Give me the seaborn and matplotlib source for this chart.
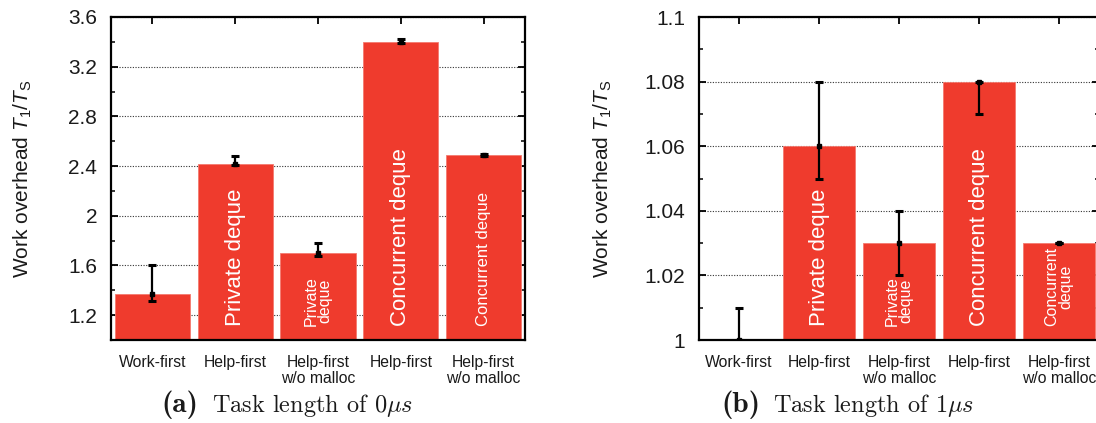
import matplotlib
matplotlib.use("Agg")
import matplotlib.pyplot as plt
import matplotlib.transforms as mtransforms
from matplotlib.ticker import FixedLocator, MultipleLocator, FuncFormatter
import numpy as np
import pandas as pd
import seaborn as sns

# Scheduler variants along the x axis
categories = ["Work-first", "Help-first", "Help-first\nw/o malloc",
              "Help-first", "Help-first\nw/o malloc"]

# Deque kind written inside each bar
deque_0us = ["", "Private deque", "Private\ndeque", "Concurrent deque", "Concurrent deque"]
deque_1us = ["", "Private deque", "Private\ndeque", "Concurrent deque", "Concurrent\ndeque"]

# Work overhead T1/TS with min/max range, task length 0 us
overhead_0us = [1.37, 2.42, 1.70, 3.40, 2.49]
low_0us = [1.31, 2.41, 1.68, 3.39, 2.48]
high_0us = [1.60, 2.48, 1.78, 3.42, 2.50]

# Work overhead T1/TS with min/max range, task length 1 us
overhead_1us = [1.00, 1.06, 1.03, 1.08, 1.03]
low_1us = [1.00, 1.05, 1.02, 1.07, 1.03]
high_1us = [1.01, 1.08, 1.04, 1.08, 1.03]

# Axis ticks
yticks_0us = [1.2, 1.6, 2.0, 2.4, 2.8, 3.2, 3.6]
yticks_1us = [1.0, 1.02, 1.04, 1.06, 1.08, 1.1]

# Sub-figure captions: bold tag + description
caption_tags = ["(a)", "(b)"]
caption_texts = [r"Task length of $0\mu s$", r"Task length of $1\mu s$"]

sns.set_theme(style="ticks")
plt.rcParams["font.family"] = ["Liberation Sans", "DejaVu Sans"]
plt.rcParams["mathtext.fontset"] = "custom"
plt.rcParams["mathtext.rm"] = "Liberation Sans"
plt.rcParams["mathtext.it"] = "Liberation Sans:italic"
plt.rcParams["mathtext.bf"] = "Liberation Sans:bold"

RED = "#EF3B2D"
INK = "#1a1a1a"

fig = plt.figure(figsize=(10.96, 4.23), dpi=100)
axL = fig.add_axes([111 / 1096, 83 / 423, 414 / 1096, 323 / 423])
axR = fig.add_axes([699 / 1096, 83 / 423, 400 / 1096, 323 / 423])

label_sizes = [0, 16, 11.5, 16, 12]
label_sizes_r = [0, 16, 11.5, 16, 11.5]


def draw_panel(ax, values, low, high, texts, sizes, ylim, yticks, yminor, ylabel_x):
    df = pd.DataFrame({"slot": np.arange(len(values)), "overhead": values})
    sns.barplot(data=df, x="slot", y="overhead", color=RED, saturation=1,
                width=0.91, errorbar=None, ax=ax, zorder=2,
                edgecolor="#F47A6F", linewidth=0.6)
    vals = np.asarray(values)
    yerr = np.vstack([vals - np.asarray(low), np.asarray(high) - vals])
    ax.errorbar(df["slot"], vals, yerr=yerr, fmt="s", color="black",
                ecolor="black", elinewidth=1.6, capsize=2.6, capthick=2.2,
                markersize=3.2, zorder=4)

    # Deque kind inside each bar
    trans = mtransforms.blended_transform_factory(ax.transData, ax.transAxes)
    for i, (t, s) in enumerate(zip(texts, sizes)):
        if t:
            ax.text(i, 0.043, t, rotation=90, ha="center", va="bottom",
                    color="white", fontsize=s, linespacing=0.95,
                    transform=trans, zorder=3)

    ax.set_xlim(-0.5, len(values) - 0.5)
    ax.set_ylim(*ylim)
    ax.set_xticks(range(len(categories)))
    ax.set_xticklabels(categories, fontsize=11.3, color=INK, linespacing=1.05)
    ax.yaxis.set_major_locator(FixedLocator(yticks))
    ax.yaxis.set_minor_locator(MultipleLocator(yminor))
    ax.yaxis.set_major_formatter(FuncFormatter(lambda v, p: f"{v:g}"))
    ax.tick_params(axis="both", which="both", direction="in", top=True, right=True,
                   color="black")
    ax.tick_params(axis="y", which="major", length=5, width=1.3, pad=10,
                   labelsize=15, labelcolor=INK)
    ax.tick_params(axis="y", which="minor", length=3, width=1.1)
    ax.tick_params(axis="x", which="major", length=5, width=1.3, pad=11,
                   labelsize=11.3, labelcolor=INK)
    ax.tick_params(axis="x", which="minor", bottom=False, top=False)

    ax.set_axisbelow(True)
    ax.yaxis.grid(True, which="major", linestyle=(0, (1, 1.4)), color="#333333",
                  linewidth=0.8)
    ax.xaxis.grid(False)
    for sp in ax.spines.values():
        sp.set_visible(True)
        sp.set_linewidth(1.6)
        sp.set_color("black")

    ax.set_xlabel("")
    ax.set_ylabel(r"Work overhead $T_1/T_{\mathrm{S}}$", fontsize=15, color=INK,
                  va="center")
    ax.yaxis.set_label_coords(ylabel_x, 0.5)


draw_panel(axL, overhead_0us, low_0us, high_0us, deque_0us, label_sizes,
           (1.0, 3.6), yticks_0us, 0.2, (23 - 111) / 414)
draw_panel(axR, overhead_1us, low_1us, high_1us, deque_1us, label_sizes_r,
           (1.0, 1.1), yticks_1us, 0.01, (603 - 699) / 400)

# Captions under each sub-figure
cap_y = 1 - 412 / 423
for tag, txt, x_tag, x_txt in zip(caption_tags, caption_texts,
                                  [198, 760], [212, 773]):
    fig.text(x_tag / 1096, cap_y, tag, ha="right", va="baseline",
             fontsize=21, color=INK, family="cmb10")
    fig.text(x_txt / 1096, cap_y, txt, ha="left", va="baseline",
             fontsize=17.5, color=INK, family="cmr10", math_fontfamily="cm")

fig.savefig("out.png", dpi=100)
